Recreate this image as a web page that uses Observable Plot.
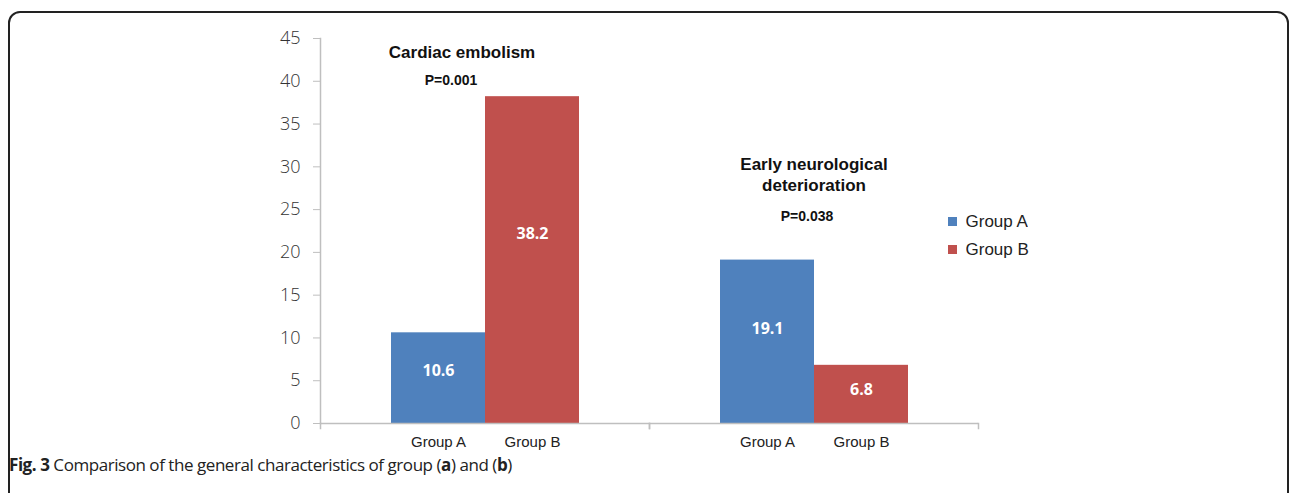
<!DOCTYPE html>
<html>
<head>
<meta charset="utf-8">
<script src="https://cdn.jsdelivr.net/npm/d3@7"></script>
<script src="https://cdn.jsdelivr.net/npm/@observablehq/plot@0.6"></script>
<style>
  html, body { margin: 0; padding: 0; background: #fff; }
  #wrap { position: relative; width: 1292px; height: 493px; overflow: hidden; }
  #frame { position: absolute; left: 8px; top: 11px; width: 1281px; height: 520px;
           border: 2px solid #222; border-radius: 12px; box-sizing: border-box; }
  #chart { position: absolute; left: 0; top: 0; }
  #legend { position: absolute; left: 948px; top: 208px; }
  #legend div { line-height: 27px; }
  #caption { position: absolute; left: 9px; top: 453px; font-family: "Open Sans", sans-serif;
             font-size: 17px; color: #222; white-space: nowrap; letter-spacing: -0.45px; }
  #caption b { font-weight: 700; }
</style>
</head>
<body>
<div id="wrap">
  <div id="frame"></div>
  <div id="chart"></div>
  <div id="legend"></div>
  <div id="caption"><b>Fig. 3</b> Comparison of the general characteristics of group (<b>a</b>) and (<b>b</b>)</div>
</div>
<script>
// ---- data ----
const categories = ["Cardiac embolism", "Early neurological deterioration"];
const groups = ["Group A", "Group B"];
const groupA = [10.6, 19.1];
const groupB = [38.2, 6.8];
const pValues = ["P=0.001", "P=0.038"];
const categoryTitles = ["Cardiac embolism", "Early neurological\ndeterioration"];
const yTicks = [0, 5, 10, 15, 20, 25, 30, 35, 40, 45];
const colors = ["#4F81BD", "#C0504D"];

const rows = [];
categories.forEach((c, i) => {
  rows.push({category: c, group: groups[0], value: groupA[i]});
  rows.push({category: c, group: groups[1], value: groupB[i]});
});

const H = 450, mTop = 38, mBottom = 27;
const plotH = H - mTop - mBottom;
const axisGray = "#bfbfbf";
const titleStyle = {frameAnchor: "top", lineAnchor: "middle", fontWeight: "bold",
                    fontFamily: "Liberation Sans", fill: "#111"};

const chart = Plot.plot({
  width: 1292,
  height: H,
  marginLeft: 320,
  marginRight: 314,
  marginTop: mTop,
  marginBottom: mBottom,
  style: {background: "transparent"},
  fx: {domain: categories, padding: 0, axis: null},
  x: {domain: groups, paddingInner: 0, paddingOuter: 0.75, axis: null},
  y: {domain: [0, 45], axis: null},
  color: {domain: groups, range: colors},
  marks: [
    Plot.barY(rows, {fx: "category", x: "group", y: "value", fill: "group"}),
    Plot.ruleY([0], {stroke: axisGray, strokeWidth: 1.5}),
    // y axis line (left facet only)
    Plot.frame({anchor: "left", facetAnchor: "left", stroke: axisGray, strokeWidth: 1.5}),
    // category separator ticks on baseline
    Plot.frame({anchor: "left", stroke: axisGray, insetTop: plotH, insetBottom: -5, strokeWidth: 1.5}),
    Plot.frame({anchor: "right", stroke: axisGray, insetTop: plotH, insetBottom: -5, strokeWidth: 1.5}),
    Plot.axisY({ticks: yTicks, tickSize: 7, tickPadding: 13, stroke: axisGray, fill: "#333",
                fontSize: 18, fontWeight: 300, fontFamily: "Open Sans", label: null, tickFormat: d => String(d)}),
    Plot.axisX({tickSize: 0, tickPadding: 13, fontSize: 15, fill: "#222",
                fontFamily: "Liberation Sans", label: null}),
    // value labels
    Plot.text(rows, {fx: "category", x: "group", y: d => d.value * 0.58, text: d => d.value.toFixed(1),
                     fill: "white", fontWeight: "bold", fontSize: 16, fontFamily: "Open Sans"}),
    // titles
    Plot.text([0], {...titleStyle, fx: () => categories[0], text: () => categoryTitles[0],
                    dy: 14, dx: -23, fontSize: 17}),
    Plot.text([0], {...titleStyle, fx: () => categories[0], text: () => pValues[0],
                    dy: 42, dx: -34, fontSize: 14}),
    Plot.text([0], {...titleStyle, fx: () => categories[1], text: () => categoryTitles[1],
                    dy: 135, dx: 0, lineHeight: 1.24, fontSize: 17}),
    Plot.text([0], {...titleStyle, fx: () => categories[1], text: () => pValues[1],
                    dy: 178, dx: -7, fontSize: 14})
  ]
});
document.getElementById("chart").appendChild(chart);

const legend = Plot.legend({
  color: {domain: groups, range: colors},
  columns: 1,
  swatchSize: 9,
  style: {fontFamily: "Liberation Sans", fontSize: "17px", color: "#222", background: "transparent"}
});
document.getElementById("legend").appendChild(legend);
</script>
</body>
</html>
